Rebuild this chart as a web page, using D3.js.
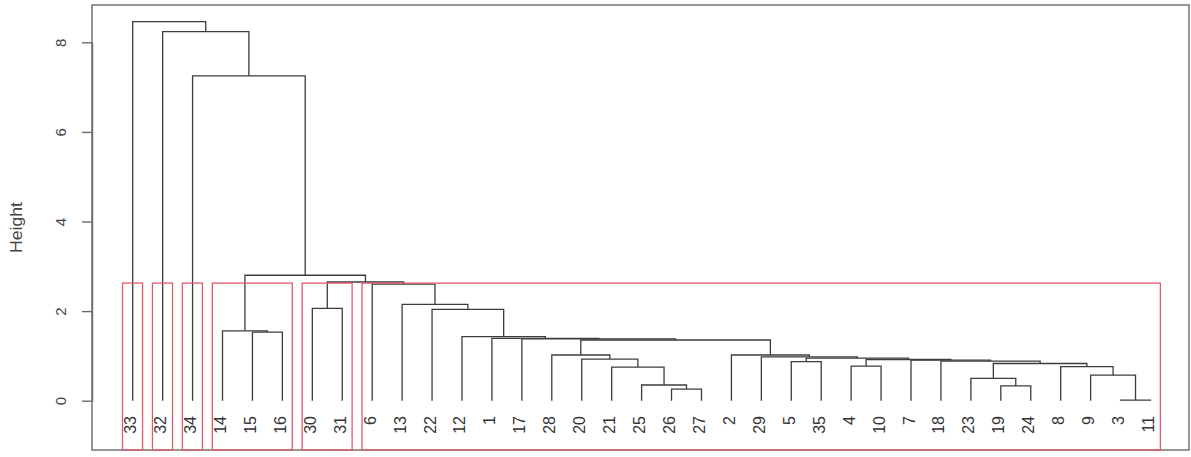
<!DOCTYPE html>
<html>
<head>
<meta charset="utf-8">
<script src="https://cdn.jsdelivr.net/npm/d3@7/dist/d3.min.js"></script>
<style>
    html, body { margin: 0; padding: 0; background: #fff; }
    svg { display: block; font-family: "Liberation Sans", Arial, sans-serif; }
</style>
</head>
<body>
<svg id="chart" width="1191" height="457"></svg>
<script>
// leaves in the order they are drawn, left to right
var leafLabels = ["33", "32", "34", "14", "15", "16", "30", "31", "6", "13", "22", "12", "1", "17",
		  "28", "20", "21", "25", "26", "27", "2", "29", "5", "35", "4", "10", "7", "18",
		  "23", "19", "24", "8", "9", "3", "11"];

// merge steps (hclust style). A child is a leaf label or "m<step>" for an earlier merge
var mergeLeft  = ["3", "26", "19", "25", "23", "9", "21", "8", "4", "m5", "5", "18", "7", "m9", "m11", "20", "29",
		  "28", "2", "m18", "17", "1", "12", "15", "14", "22", "30", "13", "6", "m27", "m25", "34", "32", "33"];
var mergeRight = ["11", "27", "24", "m2", "m3", "m1", "m4", "m6", "10", "m8", "35", "m10", "m12", "m13", "m14", "m7", "m15",
		  "m16", "m17", "m19", "m20", "m21", "m22", "16", "m24", "m23", "31", "m26", "m28", "m29", "m30", "m31", "m32", "m33"];
var mergeHeight = [0.015, 0.26, 0.33, 0.35, 0.50, 0.57, 0.75, 0.76, 0.77, 0.83, 0.87, 0.885, 0.905, 0.92, 0.95, 0.93, 0.98,
		   1.02, 1.02, 1.355, 1.38, 1.39, 1.43, 1.53, 1.56, 2.04, 2.06, 2.15, 2.60, 2.65, 2.80, 7.25, 8.24, 8.46];

var yTicks = [0, 2, 4, 6, 8];
var yTitle = "Height";
var nClusters = 6;

// Layout (pixels)
var frame = {left: 92, right: 1189, top: 5, bottom: 450};
var lineColor = "#3c3c3c";
var rectColor = "#e4596a";

var svg = d3.select("#chart");

var x = d3.scaleLinear()
    .domain([1, leafLabels.length])
    .range([132.7, 1150.5]);

var y = d3.scaleLinear()
    .domain([0, 8])
    .range([400.7, 42.3]);

///*********************////
/// TREE GEOMETRY       ////
///*********************////
var leafPos = {};
leafLabels.forEach(function (l, i) { leafPos[l] = i + 1; });

var nodes = {};
var node = function (ref) {
    if (ref.charAt(0) === "m") {
	return nodes[ref];
    }
    return {x: leafPos[ref], h: 0, lo: leafPos[ref], hi: leafPos[ref], leaf: true};
};

mergeLeft.forEach(function (a, i) {
    var l = node(a);
    var r = node(mergeRight[i]);
    nodes["m" + (i + 1)] = {
	x: (l.x + r.x) / 2,
	h: mergeHeight[i],
	lo: Math.min(l.lo, r.lo),
	hi: Math.max(l.hi, r.hi),
	left: l,
	right: r
    };
});
var root = nodes["m" + mergeLeft.length];

// frame
svg.append("rect")
    .attr("x", frame.left)
    .attr("y", frame.top)
    .attr("width", frame.right - frame.left)
    .attr("height", frame.bottom - frame.top)
    .attr("fill", "none")
    .attr("stroke", "#6a6a6a")
    .attr("stroke-width", 1.4);

// dendrogram branches
var g = svg.append("g")
    .attr("fill", "none")
    .attr("stroke", lineColor)
    .attr("stroke-width", 1.3);

d3.range(mergeLeft.length).forEach(function (i) {
    var n = nodes["m" + (i + 1)];
    g.append("path")
	.attr("d", "M" + x(n.left.x) + "," + y(n.left.h) +
	      "V" + y(n.h) +
	      "H" + x(n.right.x) +
	      "V" + y(n.right.h));
});

// cluster rectangles (rect.hclust, k = 6)
var sortedH = mergeHeight.slice().sort(d3.descending);
var cut = (sortedH[nClusters - 2] + sortedH[nClusters - 1]) / 2;
var clusters = [];
var collect = function (n) {
    if (!n.leaf && n.h > cut) {
	collect(n.left);
	collect(n.right);
    } else {
	clusters.push(n);
    }
};
collect(root);

svg.append("g")
    .selectAll("rect")
    .data(clusters)
    .join("rect")
    .attr("x", function (d) { return x(d.lo - 0.34); })
    .attr("y", y(cut))
    .attr("width", function (d) { return x(d.hi + 0.33) - x(d.lo - 0.34); })
    .attr("height", frame.bottom - y(cut))
    .attr("fill", "none")
    .attr("stroke", rectColor)
    .attr("stroke-width", 1.3);

// leaf labels
svg.append("g")
    .selectAll("text")
    .data(leafLabels)
    .join("text")
    .attr("transform", function (d, i) { return "translate(" + (x(i + 1) + 3.5) + ",416) rotate(-90)"; })
    .attr("text-anchor", "end")
    .attr("font-size", 16)
    .attr("fill", "#333")
    .text(function (d) { return d; });

// y axis
var axis = svg.append("g")
    .attr("transform", "translate(" + frame.left + ",0)")
    .call(d3.axisLeft(y).tickValues(yTicks).tickSize(10).tickSizeOuter(0));

axis.select(".domain").attr("stroke", "#6a6a6a").attr("stroke-width", 1.4);
axis.selectAll(".tick line").attr("stroke", "#6a6a6a").attr("stroke-width", 1.4);
axis.selectAll(".tick text")
    .attr("x", null)
    .attr("dy", null)
    .attr("transform", "translate(-26,0) rotate(-90)")
    .attr("text-anchor", "middle")
    .attr("font-size", 15)
    .attr("font-family", "Liberation Sans, Arial, sans-serif")
    .attr("fill", "#444");

svg.append("text")
    .attr("transform", "translate(22," + ((frame.top + frame.bottom) / 2) + ") rotate(-90) scale(1.1,1)")
    .attr("text-anchor", "middle")
    .attr("font-size", 16)
    .attr("fill", "#444")
    .text(yTitle);
</script>
</body>
</html>
